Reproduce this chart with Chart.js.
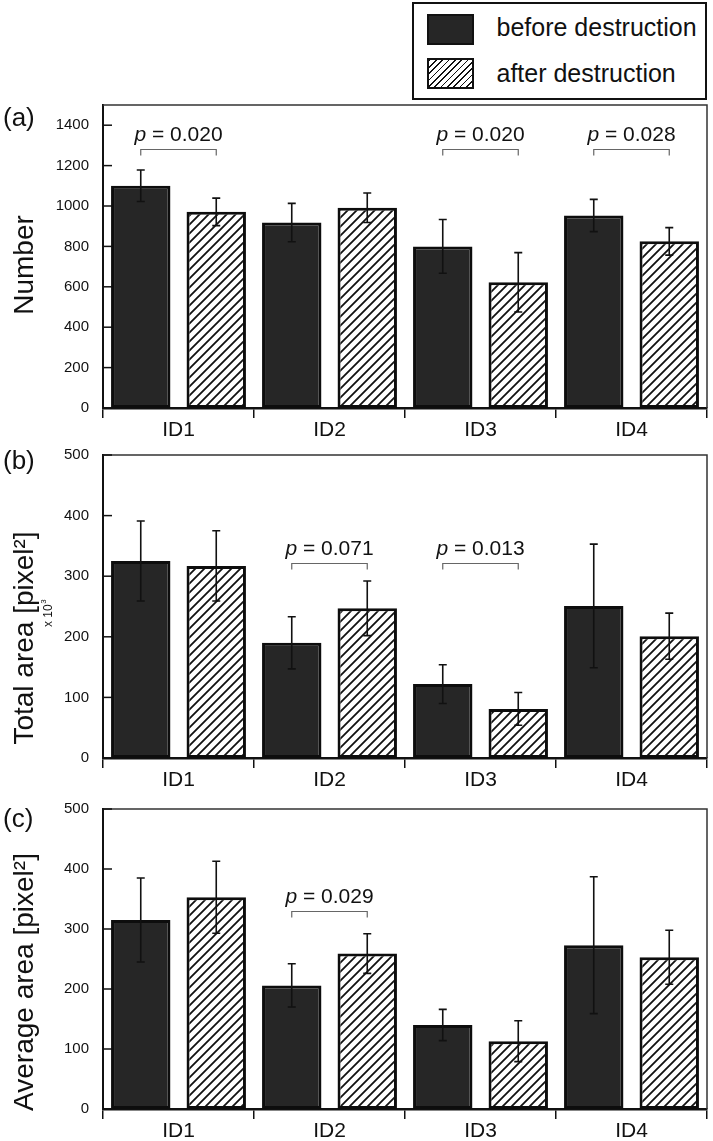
<!DOCTYPE html>
<html><head><meta charset="utf-8">
<script src="https://cdn.jsdelivr.net/npm/chart.js@4.4.1/dist/chart.umd.min.js"></script>
<style>
html,body{margin:0;padding:0;background:#fff;}
body{width:713px;height:1141px;position:relative;overflow:hidden;font-family:'Liberation Sans',Arial,sans-serif;color:#111;}
canvas{position:absolute;left:0;}
#legend{position:absolute;left:412px;top:2px;width:291px;height:94px;border:2.5px solid #111;background:#fff;z-index:2;}
.sw{position:absolute;left:12.5px;width:47px;height:31px;box-sizing:border-box;border:2.5px solid #111;}
.sw.dark{top:9.5px;background:#262626;}
.sw.hatch{top:53.5px;background:repeating-linear-gradient(135deg,#111 0 1.2px,#fff 1.2px 4.5px);}
.lt{position:absolute;left:82.5px;font-size:25px;line-height:25px;white-space:nowrap;}
</style>
</head><body>
<div id="legend">
  <div class="sw dark"></div><span class="lt" style="top:11px">before destruction</span>
  <div class="sw hatch"></div><span class="lt" style="top:57px">after destruction</span>
</div>
<canvas id="ca" width="713" height="440" style="top:0"></canvas>
<canvas id="cb" width="713" height="350" style="top:440px"></canvas>
<canvas id="cc" width="713" height="351" style="top:790px"></canvas>
<script>
// ---------- data ----------
const categories = ['ID1', 'ID2', 'ID3', 'ID4'];
const seriesNames = ['before destruction', 'after destruction'];

const numberBefore   = [1100, 918, 800, 953];
const numberBeforeSd = [78, 95, 133, 80];
const numberAfter    = [971, 991, 622, 825];
const numberAfterSd  = [68, 73, 147, 68];

const totalBefore    = [325, 190, 122, 251];
const totalBeforeSd  = [66, 43, 32, 102];
const totalAfter     = [317, 247, 81, 201];
const totalAfterSd   = [58, 45, 27, 38];

const averageBefore   = [315, 206, 140, 273];
const averageBeforeSd = [70, 36, 26, 114];
const averageAfter    = [353, 259, 113, 253];
const averageAfterSd  = [60, 33, 34, 45];

const numberTicks = [0, 200, 400, 600, 800, 1000, 1200, 1400];
const areaTicks   = [0, 100, 200, 300, 400, 500];

const numberPCats  = ['ID1', 'ID3', 'ID4'];
const numberPText  = ['0.020', '0.020', '0.028'];
const numberPLevel = [1280, 1280, 1280];

const totalPCats  = ['ID2', 'ID3'];
const totalPText  = ['0.071', '0.013'];
const totalPLevel = [322, 322];

const averagePCats  = ['ID2'];
const averagePText  = ['0.029'];
const averagePLevel = [330];

// ---------- helpers ----------
const FONT = "'Liberation Sans', Arial, sans-serif";

function makeHatch() {
  const s = 9;
  const c = document.createElement('canvas');
  c.width = s; c.height = s;
  const g = c.getContext('2d');
  g.fillStyle = '#fff'; g.fillRect(0, 0, s, s);
  g.strokeStyle = '#111'; g.lineWidth = 1.8;
  g.beginPath();
  g.moveTo(-1, s + 1); g.lineTo(s + 1, -1);
  g.moveTo(-2, 2); g.lineTo(2, -2);
  g.moveTo(s - 2, s + 2); g.lineTo(s + 2, s - 2);
  g.stroke();
  return g.createPattern(c, 'repeat');
}
const hatch = makeHatch();

const deco = {
  id: 'deco',
  afterDatasetsDraw(chart, args, o) {
    const ctx = chart.ctx, ys = chart.scales.y;
    ctx.save();
    ctx.strokeStyle = '#111'; ctx.lineWidth = 1.6;
    chart.data.datasets.forEach((ds, i) => {
      const meta = chart.getDatasetMeta(i);
      meta.data.forEach((el, j) => {
        const v = ds.data[j], e = ds.sd[j];
        const yt = ys.getPixelForValue(v + e), yb = ys.getPixelForValue(v - e);
        ctx.beginPath();
        ctx.moveTo(el.x, yt); ctx.lineTo(el.x, yb);
        ctx.moveTo(el.x - 4, yt); ctx.lineTo(el.x + 4, yt);
        ctx.moveTo(el.x - 4, yb); ctx.lineTo(el.x + 4, yb);
        ctx.stroke();
      });
    });
    ctx.restore();
  },
  afterDraw(chart, args, o) {
    const ctx = chart.ctx, ca = chart.chartArea, ys = chart.scales.y;
    ctx.save();
    // frame top / right
    ctx.strokeStyle = '#333'; ctx.lineWidth = 1.5;
    ctx.beginPath();
    ctx.moveTo(ca.left, ca.top); ctx.lineTo(ca.right, ca.top); ctx.lineTo(ca.right, ca.bottom);
    ctx.stroke();
    // inward y ticks
    ctx.strokeStyle = '#111'; ctx.lineWidth = 1.5;
    ys.ticks.forEach(t => {
      const y = ys.getPixelForValue(t.value);
      ctx.beginPath(); ctx.moveTo(ca.left, y); ctx.lineTo(ca.left + 9, y); ctx.stroke();
    });
    // brackets with p values
    const m0 = chart.getDatasetMeta(0), m1 = chart.getDatasetMeta(1);
    o.pCats.forEach((cat, k) => {
      const idx = categories.indexOf(cat);
      const x1 = m0.data[idx].x, x2 = m1.data[idx].x;
      const y = Math.round(ys.getPixelForValue(o.pLevel[k])) + 0.5;
      ctx.strokeStyle = '#666'; ctx.lineWidth = 1.2;
      ctx.beginPath();
      ctx.moveTo(x1, y + 6); ctx.lineTo(x1, y); ctx.lineTo(x2, y); ctx.lineTo(x2, y + 6);
      ctx.stroke();
      const rest = ' = ' + o.pText[k];
      ctx.font = 'italic 21px ' + FONT;
      const wp = ctx.measureText('p').width;
      ctx.font = '21px ' + FONT;
      const wr = ctx.measureText(rest).width;
      const xs = (x1 + x2) / 2 - (wp + wr) / 2;
      ctx.fillStyle = '#111'; ctx.textAlign = 'left'; ctx.textBaseline = 'alphabetic';
      ctx.font = 'italic 21px ' + FONT;
      ctx.fillText('p', xs, y - 9);
      ctx.font = '21px ' + FONT;
      ctx.fillText(rest, xs + wp, y - 9);
    });
    // panel label
    ctx.fillStyle = '#111';
    ctx.font = '26px ' + FONT; ctx.textAlign = 'left'; ctx.textBaseline = 'alphabetic';
    ctx.fillText(o.panel, 3, o.panelY);
    // axis title (rotated)
    ctx.save();
    ctx.translate(33, o.titleY);
    ctx.rotate(-Math.PI / 2);
    ctx.font = '28px ' + FONT; ctx.textAlign = 'center';
    ctx.fillText(o.title, 0, 0);
    ctx.restore();
    if (o.sub) {
      ctx.save();
      ctx.translate(52, o.subY);
      ctx.rotate(-Math.PI / 2);
      ctx.font = '12px ' + FONT; ctx.textAlign = 'left';
      ctx.fillText('x 10', 0, 0);
      const w = ctx.measureText('x 10').width;
      ctx.font = '8px ' + FONT;
      ctx.fillText('3', w + 0.5, -6);
      ctx.restore();
    }
    ctx.restore();
  }
};

function build(id, before, beforeSd, after, afterSd, tickList, yMax, padTop, opts) {
  return new Chart(document.getElementById(id), {
    type: 'bar',
    data: {
      labels: categories,
      datasets: [
        { label: seriesNames[0], data: before, sd: beforeSd, backgroundColor: '#262626',
          borderColor: '#0d0d0d', borderWidth: 3, borderSkipped: false,
          barPercentage: 0.787, categoryPercentage: 1.0 },
        { label: seriesNames[1], data: after, sd: afterSd, backgroundColor: hatch,
          borderColor: '#0d0d0d', borderWidth: 3, borderSkipped: false,
          barPercentage: 0.787, categoryPercentage: 1.0 }
      ]
    },
    options: {
      responsive: false, animation: false, devicePixelRatio: 1,
      layout: { padding: { top: padTop, right: 6, left: 0, bottom: 0 } },
      scales: {
        x: {
          type: 'category', offset: true,
          grid: { display: true, drawOnChartArea: false, drawTicks: true, tickLength: 10,
                  offset: true, color: '#111', lineWidth: 1.5 },
          border: { display: true, color: '#111', width: 2.5 },
          ticks: { font: { size: 21, family: FONT }, color: '#111', padding: 0, maxRotation: 0 },
          afterFit: s => { s.height = 32; }
        },
        y: {
          min: 0, max: yMax,
          grid: { display: false },
          border: { display: true, color: '#111', width: 2 },
          ticks: { font: { size: 15, family: FONT }, color: '#111', padding: 6,
                   callback: v => String(v) },
          afterBuildTicks: s => { s.ticks = tickList.map(v => ({ value: v })); },
          afterFit: s => { s.width = 103; }
        }
      },
      plugins: {
        legend: { display: false },
        tooltip: { enabled: false },
        deco: opts
      }
    },
    plugins: [deco]
  });
}

build('ca', numberBefore, numberBeforeSd, numberAfter, numberAfterSd, numberTicks, 1500, 105,
  { panel: '(a)', panelY: 126, title: 'Number', titleY: 265,
    pCats: numberPCats, pText: numberPText, pLevel: numberPLevel });
build('cb', totalBefore, totalBeforeSd, totalAfter, totalAfterSd, areaTicks, 500, 14,
  { panel: '(b)', panelY: 29, title: 'Total area [pixel\u00B2]', titleY: 198, sub: true, subY: 187,
    pCats: totalPCats, pText: totalPText, pLevel: totalPLevel });
build('cc', averageBefore, averageBeforeSd, averageAfter, averageAfterSd, areaTicks, 500, 19,
  { panel: '(c)', panelY: 37, title: 'Average area [pixel\u00B2]', titleY: 192,
    pCats: averagePCats, pText: averagePText, pLevel: averagePLevel });
</script>
</body></html>
